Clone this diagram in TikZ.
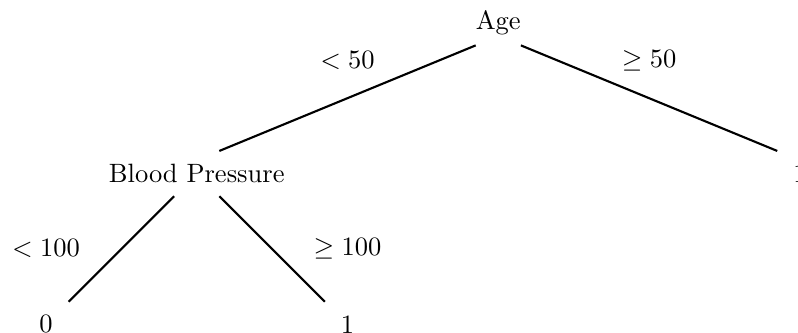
\documentclass[tikz,border=0pt]{standalone}
\begin{document}
\begin{tikzpicture}[
  treenode/.style={inner sep=0.333em},
  edgelabel/.style={inner sep=0.333em},
  branch/.style={thick}
]
\useasboundingbox (-6.609,-4.114) rectangle (3.975,0.302);
% nodes
\node[treenode] (age) at (0,0) {Age};
\node[treenode] (bp) at (-4,-2) {Blood Pressure};
\node[treenode] (r) at (4,-2) {1};
\node[treenode] (l0) at (-6,-4) {0};
\node[treenode] (l1) at (-2,-4) {1};
% connectors
\draw[branch] ([shift={(-0.3,-0.3)}]age.center) -- ([shift={(0.3,0.3)}]bp.center);
\draw[branch] ([shift={(0.3,-0.3)}]age.center) -- ([shift={(-0.3,0.3)}]r.center);
\draw[branch] ([shift={(-0.3,-0.3)}]bp.center) -- ([shift={(0.3,0.3)}]l0.center);
\draw[branch] ([shift={(0.3,-0.3)}]bp.center) -- ([shift={(-0.3,0.3)}]l1.center);
% labels
\node[edgelabel] (lab1) at (-2,-0.5) {$<50$};
\node[edgelabel] (lab2) at (2,-0.5) {$\geq 50$};
\node[edgelabel] (lab3) at (-6,-3) {$<100$};
\node[edgelabel] (lab4) at (-2,-3) {$\geq 100$};
\end{tikzpicture}
\end{document}
